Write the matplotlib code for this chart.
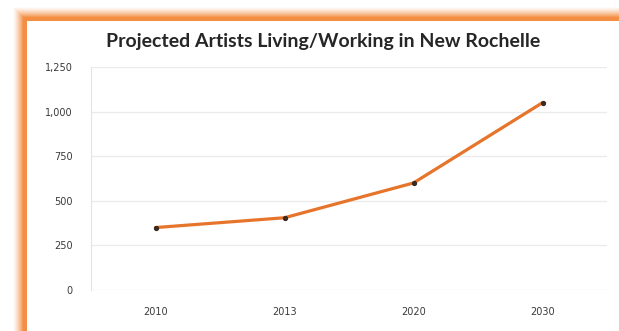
import numpy as np
import matplotlib
matplotlib.use("Agg")
import matplotlib.pyplot as plt
from matplotlib.ticker import FuncFormatter

years = ["2010", "2013", "2020", "2030"]
artists = [350, 405, 600, 1050]
y_ticks = [0, 250, 500, 750, 1000, 1250]
title = "Projected Artists Living/Working in New Rochelle"

W, H = 619, 331
fig = plt.figure(figsize=(W / 100, H / 100), dpi=100)

# Orange glow frame around the white panel (left and top edges)
bg = fig.add_axes([0, 0, 1, 1])
bg.set_axis_off()
xs = np.arange(W)[None, :].repeat(H, 0)
ys = np.arange(H)[:, None].repeat(W, 1)
px0, py0 = 27, 21
dx = px0 - xs
dy = py0 - ys
d = np.maximum(dx, dy).astype(float)
glow = np.clip(1 - (d - 4) / 11.0, 0, 1) ** 1.4
glow[(xs >= px0) & (ys >= py0)] = 0
orange = np.array([0.96, 0.56, 0.26])
white = np.array([1.0, 1.0, 1.0])
img = white[None, None, :] * (1 - glow[..., None]) + orange[None, None, :] * glow[..., None]
img[(xs >= px0) & (ys >= py0)] = 1.0
bg.imshow(img, extent=[0, W, H, 0], aspect="auto", interpolation="bilinear")
bg.set_xlim(0, W)
bg.set_ylim(H, 0)

# Plot area
left, right = 91 / W, 607 / W
bottom, top = 1 - 290 / H, 1 - 67 / H
ax = fig.add_axes([left, bottom, right - left, top - bottom])
ax.set_facecolor("none")
x = np.arange(len(years))
ax.plot(x, artists, color="#E6742A", lw=2.3, solid_capstyle="round", zorder=3)
ax.plot(x, artists, ls="none", marker="o", ms=2.8, color="#3a2a20", zorder=4)
ax.set_xlim(-0.5, len(years) - 0.5)
ax.set_ylim(0, 1250)
ax.set_yticks(y_ticks)
ax.yaxis.set_major_formatter(FuncFormatter(lambda v, p: f"{int(v):,}"))
ax.set_xticks(x)
ax.set_xticklabels(years)
ax.grid(axis="y", color="#ebebeb", lw=1)
ax.set_axisbelow(True)
for s in ["top", "right", "bottom"]:
    ax.spines[s].set_visible(False)
ax.spines["left"].set_color("#e3e3e3")
ax.tick_params(length=0, labelsize=7, colors="#3a3a3a")
ax.tick_params(axis="y", pad=13)
ax.tick_params(axis="x", pad=12)

fig.text(323 / W, 1 - 42 / H, title, ha="center", va="center",
         fontsize=14, fontweight="bold", family="Lato", color="#262626")

fig.savefig("out.png", dpi=100)
